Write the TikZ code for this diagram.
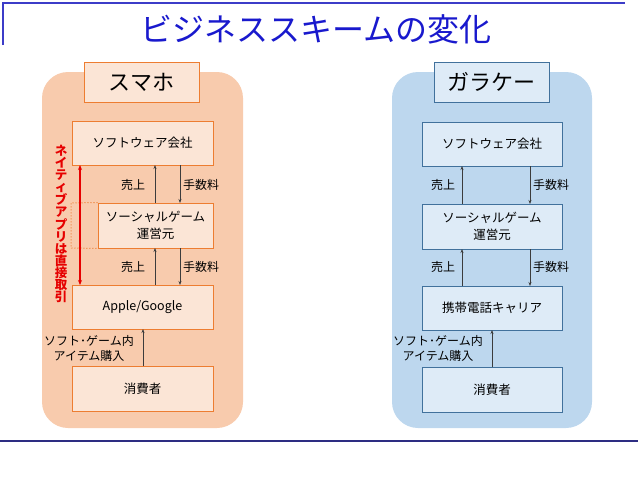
\documentclass[tikz,border=0pt]{standalone}
\usepackage{fontspec}
\setmainfont{Noto Sans CJK JP}
\setsansfont{Noto Sans CJK JP}
\usetikzlibrary{arrows.meta}
\definecolor{titleblue}{RGB}{25,25,205}
\definecolor{linenavy}{RGB}{45,45,130}
\definecolor{topblue}{RGB}{60,60,200}
\definecolor{orpanel}{RGB}{248,203,173}
\definecolor{orbox}{RGB}{251,229,214}
\definecolor{orline}{RGB}{237,125,49}
\definecolor{blpanel}{RGB}{189,215,238}
\definecolor{blbox}{RGB}{222,235,247}
\definecolor{blline}{RGB}{65,113,156}
\definecolor{arr}{RGB}{60,60,60}
\definecolor{redtxt}{RGB}{230,0,0}
\tikzset{
  obox/.style={draw=orline, fill=orbox, line width=1pt, inner sep=0pt, align=center, font=\fontsize{12.5}{17}\selectfont},
  bbox/.style={draw=blline, fill=blbox, line width=1pt, inner sep=0pt, align=center, font=\fontsize{12.5}{17}\selectfont},
  lbl/.style={font=\fontsize{12}{15}\selectfont, inner sep=0pt, align=center},
  flow/.style={draw=arr, line width=0.6pt, -{Stealth[length=4pt,width=3pt]}},
  headtxt/.style={font=\fontsize{22}{26}\selectfont, inner sep=0pt}
}
\begin{document}
\begin{tikzpicture}[x=1pt,y=-1pt]
\useasboundingbox (0,0) rectangle (638,479);
% frame lines
\draw[topblue, line width=1.5pt] (3,45) -- (3,3) -- (625,3);
\draw[linenavy, line width=2pt] (0,441) -- (638,441);
\node[font=\fontsize{32}{36}\selectfont, text=titleblue, inner sep=0pt] (title) at (316,29) {ビジネススキームの変化};
% panels
\fill[orpanel, rounded corners=26pt] (42,72) rectangle (243,428);
\fill[blpanel, rounded corners=26pt] (392,72) rectangle (592,428);
% left panel
\node[obox, minimum width=115pt, minimum height=40pt, headtxt] (lh) at (141.5,82) {スマホ};
\node[obox, minimum width=141pt, minimum height=44pt] (ls) at (142.5,143) {ソフトウェア会社};
\node[obox, minimum width=115pt, minimum height=45pt] (lg) at (155.5,225.5) {ソーシャルゲーム\\運営元};
\node[obox, minimum width=141pt, minimum height=44pt] (la) at (142.5,307) {Apple/Google};
\node[obox, minimum width=141pt, minimum height=45pt] (lc) at (142.5,388.5) {消費者};
\draw[orline, dotted, line width=1pt] (lg.north west) -- (71,203) -- (71,248) -- (lg.south west);
\coordinate (l1a) at (155,203); \coordinate (l1b) at (155,165);
\coordinate (l2a) at (180,165); \coordinate (l2b) at (180,203);
\draw[flow] (l1a) -- (l1b);
\draw[flow] (l2a) -- (l2b);
\node[lbl] (lu1) at (133,185) {売上};
\node[lbl] (lf1) at (201,185) {手数料};
\coordinate (l3a) at (155,285); \coordinate (l3b) at (155,248);
\coordinate (l4a) at (180,248); \coordinate (l4b) at (180,285);
\draw[flow] (l3a) -- (l3b);
\draw[flow] (l4a) -- (l4b);
\node[lbl] (lu2) at (133,267) {売上};
\node[lbl] (lf2) at (201,267) {手数料};
\coordinate (l5a) at (143,366); \coordinate (l5b) at (143,329);
\draw[flow] (l5a) -- (l5b);
\node[lbl] (lp) at (89,348) {ソフト･ゲーム内\\アイテム購入};
\coordinate (ra) at (80,165); \coordinate (rb) at (80,285);
\draw[redtxt, line width=1.5pt, {Stealth[length=5pt,width=4pt]}-{Stealth[length=5pt,width=4pt]}] (ra) -- (rb);
\node[text=redtxt, font=\bfseries\fontsize{12.5}{12.1}\selectfont, align=center, inner sep=0pt] (vt) at (61,224)
 {ネ\\イ\\テ\\ィ\\ブ\\ア\\プ\\リ\\は\\直\\接\\取\\引};
% right panel
\node[bbox, minimum width=115pt, minimum height=40pt, headtxt] (rh) at (491.5,82) {ガラケー};
\node[bbox, minimum width=140pt, minimum height=44pt] (rs) at (492,144) {ソフトウェア会社};
\node[bbox, minimum width=140pt, minimum height=45pt] (rg) at (492,226.5) {ソーシャルゲーム\\運営元};
\node[bbox, minimum width=140pt, minimum height=44pt] (rk) at (492,308) {携帯電話キャリア};
\node[bbox, minimum width=140pt, minimum height=45pt] (rc) at (492,389.5) {消費者};
\coordinate (r1a) at (462,204); \coordinate (r1b) at (462,166);
\coordinate (r2a) at (530,166); \coordinate (r2b) at (530,204);
\draw[flow] (r1a) -- (r1b);
\draw[flow] (r2a) -- (r2b);
\node[lbl] (ru1) at (443,185) {売上};
\node[lbl] (rf1) at (551,185) {手数料};
\coordinate (r3a) at (462,286); \coordinate (r3b) at (462,249);
\coordinate (r4a) at (530,249); \coordinate (r4b) at (530,286);
\draw[flow] (r3a) -- (r3b);
\draw[flow] (r4a) -- (r4b);
\node[lbl] (ru2) at (443,267) {売上};
\node[lbl] (rf2) at (551,267) {手数料};
\coordinate (r5a) at (492,367); \coordinate (r5b) at (492,330);
\draw[flow] (r5a) -- (r5b);
\node[lbl] (rp) at (438,348) {ソフト･ゲーム内\\アイテム購入};
\end{tikzpicture}
\end{document}
